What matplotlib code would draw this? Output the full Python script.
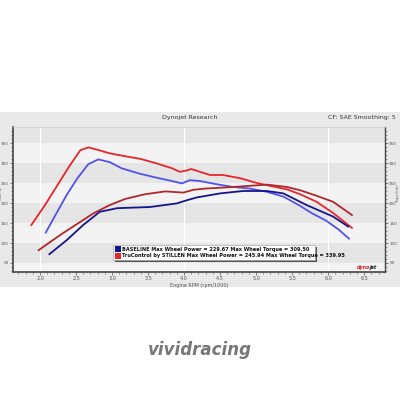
import matplotlib
matplotlib.use("Agg")
import matplotlib.pyplot as plt
from matplotlib.patches import Rectangle

# ---- data (rpm/1000, values) ----
tru_tq_rpm = [1.88, 2.07, 2.23, 2.40, 2.56, 2.67, 2.80, 2.97, 3.18, 3.40, 3.60, 3.83, 3.94, 4.03, 4.10, 4.22, 4.36, 4.54, 4.78, 5.01, 5.19, 5.43, 5.61, 5.84, 6.07, 6.33]
tru_tq = [145, 195, 241, 290, 332, 339, 333, 324, 317, 310, 300, 287, 278, 281, 285, 278, 270, 270, 262, 250, 243, 234, 222, 203, 175, 138]

base_tq_rpm = [2.08, 2.23, 2.37, 2.52, 2.67, 2.81, 2.97, 3.13, 3.37, 3.60, 3.83, 3.97, 4.08, 4.22, 4.45, 4.68, 4.92, 5.15, 5.38, 5.61, 5.77, 5.98, 6.15, 6.29]
base_tq = [126, 175, 220, 262, 297, 309, 302, 287, 274, 264, 255, 249, 257, 255, 247, 240, 236, 228, 216, 193, 175, 155, 133, 111]

tru_hp_rpm = [1.98, 2.28, 2.51, 2.74, 2.97, 3.18, 3.46, 3.74, 3.99, 4.13, 4.29, 4.68, 5.15, 5.43, 5.61, 5.84, 6.07, 6.33]
tru_hp = [82, 120, 147, 174, 195, 210, 222, 229, 226, 233, 236, 240, 246, 240, 232, 218, 203, 170]

base_hp_rpm = [2.13, 2.37, 2.60, 2.83, 3.07, 3.53, 3.90, 4.04, 4.18, 4.50, 4.82, 5.15, 5.38, 5.70, 6.07, 6.28]
base_hp = [72, 107, 145, 178, 187, 190, 199, 207, 214, 224, 230, 230, 224, 195, 166, 141]

x_ticks = [2.0, 2.5, 3.0, 3.5, 4.0, 4.5, 5.0, 5.5, 6.0, 6.5]
y_ticks = [50, 100, 150, 200, 250, 300, 350]

legend_lines = ["BASELINE Max Wheel Power = 229.67 Max Wheel Torque = 309.50",
                "TruControl by STILLEN Max Wheel Power = 245.94 Max Wheel Torque = 339.95"]

fig = plt.figure(figsize=(4, 4), dpi=100)
fig.patch.set_facecolor("white")

# gray dyno panel (behind axes)
panel = Rectangle((0, 1 - 287 / 400), 1, (287 - 112) / 400, transform=fig.transFigure,
                  facecolor="#e9e9e9", edgecolor="none", zorder=-5)
fig.patches.append(panel)

ax = fig.add_axes([13 / 400, 1 - 272 / 400, 372 / 400, 145 / 400])
ax.set_zorder(1)
ax.set_facecolor("#f3f3f3")
ax.set_xlim(1.625, 6.79)
ax.set_ylim(27.5, 390)

for lo in [50, 150, 250, 350]:
    ax.axhspan(lo, lo + 50, color="#e5e5e5", zorder=0, lw=0)
for xv in [2.0, 4.0, 6.0]:
    ax.axvline(xv, color="#ffffff", lw=0.8, zorder=0.5)

c_tq_red = "#e8262a"
c_tq_blue = "#5252ea"
c_hp_red = "#b0282c"
c_hp_blue = "#15158a"
ax.plot(tru_tq_rpm, tru_tq, color=c_tq_red, lw=1.3, zorder=3)
ax.plot(base_tq_rpm, base_tq, color=c_tq_blue, lw=1.3, zorder=3)
ax.plot(tru_hp_rpm, tru_hp, color=c_hp_red, lw=1.3, zorder=3)
ax.plot(base_hp_rpm, base_hp, color=c_hp_blue, lw=1.3, zorder=3)

ax.set_xticks(x_ticks)
ax.set_xticklabels([f"{v:.1f}" for v in x_ticks], fontsize=3.5, color="#555555")
ax.set_xticks([v / 10 for v in range(17, 68)], minor=True)
ax.set_yticks(y_ticks)
ax.set_yticklabels([str(v) for v in y_ticks], fontsize=3.0, color="#555555")
ax.set_yticks(list(range(30, 390, 10)), minor=True)
ax.tick_params(axis="both", which="major", length=2.0, width=0.5, color="#555555", pad=1.0)
ax.tick_params(axis="both", which="minor", length=1.2, width=0.4, color="#555555")
ax.set_xlabel("Engine RPM (rpm/1000)", fontsize=3.5, color="#555555", labelpad=1)
ax.set_ylabel("Power (hp)", fontsize=1.8, color="#555555")
ax.yaxis.set_label_coords(-0.026, 0.5448)
for s in ["left", "bottom"]:
    ax.spines[s].set_color("#444444")
    ax.spines[s].set_linewidth(1.2)
ax.spines["top"].set_color("#cccccc")
ax.spines["top"].set_linewidth(0.5)
ax.spines["right"].set_color("#444444")
ax.spines["right"].set_linewidth(1.0)

ax2 = ax.twinx()
ax2.set_zorder(2)
ax2.patch.set_visible(False)
ax2.set_ylim(27.5, 390)
ax2.set_yticks(y_ticks)
ax2.set_yticklabels([str(v) for v in y_ticks], fontsize=3.0, color="#555555")
ax2.set_yticks(list(range(30, 390, 10)), minor=True)
ax2.tick_params(axis="y", which="major", length=2.0, width=0.5, color="#555555", pad=1.0)
ax2.tick_params(axis="y", which="minor", length=1.2, width=0.4, color="#555555")
ax2.set_ylabel("Torque (ft-lbs)", fontsize=1.8, color="#555555")
ax2.yaxis.set_label_coords(1.03, 0.5448)
for s in ax2.spines.values():
    s.set_visible(False)

# legend box
bx0, by0, bw, bh = 113 / 400, 1 - 260 / 400, 202 / 400, 15 / 400
fig.patches.append(Rectangle((bx0 + 0.004, by0 - 0.004), bw, bh, transform=fig.transFigure,
                             facecolor="#555555", edgecolor="none", zorder=5))
fig.patches.append(Rectangle((bx0, by0), bw, bh, transform=fig.transFigure,
                             facecolor="white", edgecolor="#999999", lw=0.4, zorder=6))
for i, (txt, col) in enumerate(zip(legend_lines, [c_hp_blue, c_tq_red])):
    yy = by0 + bh * (0.72 - 0.45 * i)
    fig.patches.append(Rectangle((bx0 + 0.005, yy - 0.007), 0.014, 0.014, transform=fig.transFigure,
                                 facecolor=col, edgecolor="none", zorder=7))
    fig.text(bx0 + 0.022, yy, txt, fontsize=3.6, fontweight="bold", color="#111111",
             va="center", ha="left", zorder=8)

fig.text(190 / 400, 1 - 117 / 400, "Dynojet Research", fontsize=4.5, color="#333333", ha="center", va="center")
fig.text(396 / 400, 1 - 117 / 400, "CF: SAE Smoothing: 5", fontsize=4.5, color="#333333", ha="right", va="center")

fig.text(370 / 400, 1 - 268 / 400, "dyno", fontsize=3.5, color="#d02020", ha="right", va="center",
         fontweight="bold", style="italic", zorder=9)
fig.text(370 / 400, 1 - 268 / 400, "jet", fontsize=3.5, color="#222222", ha="left", va="center",
         fontweight="bold", style="italic", zorder=9)

# watermark
fig.text(0.5, 1 - 350 / 400, "vividracing", fontsize=12, color="#555555", ha="center", va="center",
         fontweight="bold", style="italic", alpha=0.8)

fig.savefig("out.png", dpi=100)
